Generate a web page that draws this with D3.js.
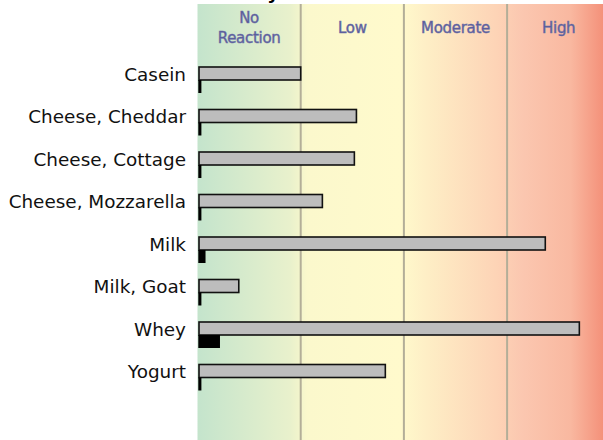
<!DOCTYPE html>
<html>
<head>
<meta charset="utf-8">
<script src="https://cdn.jsdelivr.net/npm/d3@7"></script>
<style>
  body { margin: 0; background: #fff; }
  svg { display: block; }
</style>
</head>
<body>
<div id="chart"></div>
<script>
// reaction data, in units of one level band
var foods = ["Casein", "Cheese, Cheddar", "Cheese, Cottage", "Cheese, Mozzarella",
             "Milk", "Milk, Goat", "Whey", "Yogurt"];
var igg = [1.0, 1.54, 1.52, 1.21, 3.37, 0.40, 3.70, 1.82];
var ige = [0.03, 0.03, 0.03, 0.03, 0.07, 0.03, 0.21, 0.03];
var levels = ["No Reaction", "Low", "Moderate", "High"];
var title = "Dairy";

var width = 603, height = 440;

var x = d3.scaleLinear().domain([0, 4]).range([197.5, 610.3]);
var y = d3.scaleBand().domain(foods).range([58.75, 398.75]);
var barH = 13;

var svg = d3.select("#chart").append("svg")
    .attr("width", width)
    .attr("height", height);

var grad = svg.append("defs").append("linearGradient")
    .attr("id", "bg")
    .attr("gradientUnits", "userSpaceOnUse")
    .attr("x1", x(0)).attr("x2", width)
    .attr("y1", 0).attr("y2", 0);
[[0, "#c4e4cc"], [0.23, "#e9f1cc"], [0.27, "#fbf8cc"], [0.5, "#fffacc"],
 [0.56, "#feefc6"], [0.74, "#fdd3b6"], [0.8, "#fbc7b0"], [0.92, "#f9b8a0"], [1, "#f4917a"]]
  .forEach(function(s) {
    grad.append("stop").attr("offset", s[0]).attr("stop-color", s[1]);
  });

svg.append("rect")
    .attr("x", x(0))
    .attr("y", 4)
    .attr("width", width - x(0))
    .attr("height", height - 4)
    .attr("fill", "url(#bg)");

// band dividers
svg.selectAll("line.div")
    .data([1, 2, 3])
    .enter().append("line")
    .attr("class", "div")
    .attr("x1", function(d) { return x(d); })
    .attr("x2", function(d) { return x(d); })
    .attr("y1", 4)
    .attr("y2", height)
    .attr("stroke", "#b3ae98")
    .attr("stroke-width", 2);

// level headers
var heads = svg.selectAll("text.head")
    .data(levels)
    .enter().append("text")
    .attr("class", "head")
    .attr("x", function(d, i) { return x(i + 0.5); })
    .attr("y", 32.5)
    .attr("text-anchor", "middle")
    .attr("font-family", "'DejaVu Sans', sans-serif")
    .attr("font-size", 15)
    .attr("letter-spacing", -0.3)
    .attr("fill", "#56599a")
    .attr("stroke", "#6f72a8")
    .attr("stroke-width", 0.5);
heads.each(function(d) {
  var t = d3.select(this);
  var words = d.split(" ");
  if (words.length > 1) {
    t.attr("y", 22.5);
    words.forEach(function(w, k) {
      t.append("tspan").attr("x", t.attr("x")).attr("dy", k ? 20.5 : 0).text(w);
    });
  } else {
    t.text(d);
  }
});

// cut-off title
svg.append("text")
    .attr("x", 279)
    .attr("y", -1.5)
    .attr("text-anchor", "end")
    .attr("font-family", "'DejaVu Sans', sans-serif")
    .attr("font-weight", "bold")
    .attr("font-size", 18)
    .text(title);

var rows = svg.selectAll("g.row")
    .data(foods)
    .enter().append("g")
    .attr("class", "row")
    .attr("transform", function(d) { return "translate(0," + (y(d) + y.bandwidth() / 2) + ")"; });

rows.append("rect")
    .attr("x", x(0) + 1.5)
    .attr("y", -barH)
    .attr("width", function(d, i) { return x(igg[i]) - x(0) - 1.5; })
    .attr("height", barH)
    .attr("fill", "#bdbdbd")
    .attr("stroke", "#111")
    .attr("stroke-width", 1.6);

rows.append("rect")
    .attr("x", x(0) + 0.8)
    .attr("y", 0)
    .attr("width", function(d, i) { return x(ige[i]) - x(0); })
    .attr("height", barH)
    .attr("fill", "#000");

rows.append("text")
    .attr("x", 186)
    .attr("y", -barH / 2 + 1)
    .attr("dy", "0.35em")
    .attr("text-anchor", "end")
    .attr("font-family", "'DejaVu Sans', sans-serif")
    .attr("font-size", 18.4)
    .attr("fill", "#111")
    .text(function(d) { return d; });
</script>
</body>
</html>
